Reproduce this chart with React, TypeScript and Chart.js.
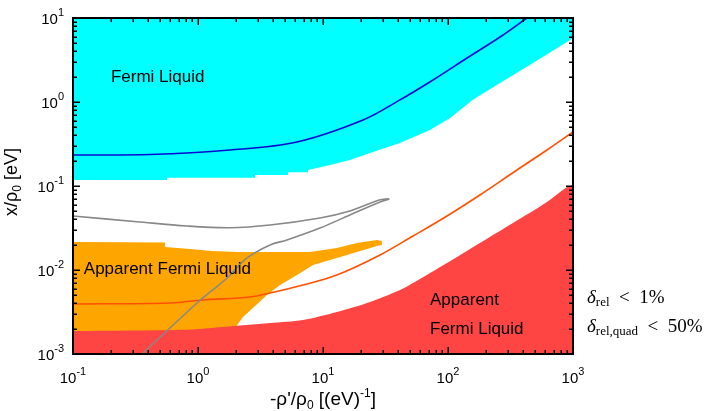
import React, { useEffect, useRef } from 'react';
import { Chart, registerables } from 'chart.js';

Chart.register(...registerables);

// ---------- data ----------
// Fermi liquid (cyan) lower boundary, filled up to the top
const cyanX = [0.1, 0.565, 0.565, 2.86, 2.86, 5.25, 5.25, 7.59, 7.59, 11.4, 16.4, 23.8, 41.3, 71.8, 104, 158, 261, 479, 895, 1000];
const cyanY = [0.118, 0.118, 0.1256, 0.1256, 0.135, 0.135, 0.1456, 0.1456, 0.155, 0.178, 0.204, 0.247, 0.325, 0.464, 0.645, 1.06, 1.68, 2.91, 5.18, 5.78];

// Apparent Fermi liquid (red) upper boundary, filled down to the bottom
const redX = [0.1, 0.817, 1.58, 3.77, 6.92, 12.9, 23.8, 41.3, 52.5, 98.2, 180, 331, 619, 895, 1000];
const redY = [0.00188, 0.00195, 0.0021, 0.00234, 0.00254, 0.00316, 0.00416, 0.00578, 0.007, 0.0121, 0.021, 0.0363, 0.0645, 0.0973, 0.103];

// Apparent Fermi liquid (orange) region outline
const orangeX = [0.1, 0.545, 0.545, 0.863, 1.29, 2.09, 7.87, 12.9, 18.7, 27.0, 29.6, 29.6, 27.0, 12.9, 8.32, 6.19, 4.53, 3.56, 2.75, 2.29, 1.98, 1.98, 0.1];
const orangeY = [0.0216, 0.0212, 0.0188, 0.0178, 0.0168, 0.0164, 0.0164, 0.0183, 0.021, 0.0228, 0.0221, 0.0199, 0.0193, 0.0139, 0.0115, 0.00871, 0.00663, 0.00504, 0.00353, 0.00276, 0.00204, 0.001, 0.001];

// blue curve
const blueX = [0.1, 0.413, 1.8, 6.19, 20.9, 41.3, 75.9, 142, 261, 428];
const blueY = [0.234, 0.237, 0.268, 0.334, 0.61, 1.06, 1.83, 3.34, 5.94, 10];

// orange-red curve
const olX = [0.1, 0.597, 1.1, 2.61, 3.77, 6.92, 12.9, 28.6, 52.5, 98.2, 180, 356, 619, 1000];
const olY = [0.00394, 0.00405, 0.0044, 0.00477, 0.00532, 0.00663, 0.00871, 0.0151, 0.0254, 0.044, 0.0782, 0.155, 0.268, 0.44];

// grey hairpin curve
const grayX = [0.1, 0.325, 0.817, 1.8, 3.77, 9.46, 16.4, 28.1, 33.7, 28.6, 16.4, 9.46, 5.15, 3.77, 2.47, 1.71, 1.25, 0.982, 0.597, 0.356];
const grayY = [0.044, 0.0376, 0.0334, 0.0319, 0.0343, 0.0416, 0.0504, 0.0681, 0.07, 0.0645, 0.0452, 0.0316, 0.0228, 0.0199, 0.0139, 0.00803, 0.00547, 0.00405, 0.00204, 0.001];

// axes
const xMajor = [0.1, 1, 10, 100, 1000];
const xExp = ['-1', '0', '1', '2', '3'];
const yMajor = [0.001, 0.01, 0.1, 1, 10];
const yExp = ['-3', '-2', '-1', '0', '1'];
const minorFactors = [2, 3, 4, 5, 6, 7, 8, 9];

// region labels [text, x, y] in data coordinates (left edge, vertical centre)
const regionLabels: [string, number, number][] = [
  ['Fermi Liquid', 0.201, 1.99],
  ['Apparent Fermi Liquid', 0.122, 0.0103],
  ['Apparent', 71.8, 0.0044],
  ['Fermi Liquid', 71.8, 0.00195],
];

const SANS = '"Liberation Sans", Arial, Helvetica, sans-serif';
const SERIF = '"Liberation Serif", "DejaVu Serif", serif';

type Run = { t: string; f: string; dy?: number };

function drawRuns(ctx: CanvasRenderingContext2D, runs: Run[], x: number, y: number, align: 'left' | 'center' | 'right') {
  let total = 0;
  const widths = runs.map((r) => {
    ctx.font = r.f;
    const w = ctx.measureText(r.t).width;
    total += w;
    return w;
  });
  let cx = align === 'left' ? x : align === 'center' ? x - total / 2 : x - total;
  ctx.textAlign = 'left';
  ctx.textBaseline = 'alphabetic';
  runs.forEach((r, i) => {
    ctx.font = r.f;
    ctx.fillText(r.t, cx, y + (r.dy || 0));
    cx += widths[i];
  });
}

const pts = (xs: number[], ys: number[]) => xs.map((x, i) => ({ x, y: ys[i] }));

const framePlugin = {
  id: 'frame',
  afterDatasetsDraw(chart: any) {
    const { ctx, scales } = chart;
    const xs = scales.x;
    const ys = scales.y;
    ctx.save();
    ctx.fillStyle = '#000';
    ctx.font = `17px ${SANS}`;
    ctx.textAlign = 'left';
    ctx.textBaseline = 'middle';
    for (const [t, x, y] of regionLabels) {
      ctx.fillText(t, xs.getPixelForValue(x), ys.getPixelForValue(y));
    }
    ctx.restore();
  },
  afterDraw(chart: any) {
    const { ctx, chartArea: a, scales } = chart;
    const xs = scales.x;
    const ys = scales.y;
    ctx.save();
    ctx.strokeStyle = '#000';
    ctx.lineWidth = 1.5;
    const seg = (x1: number, y1: number, x2: number, y2: number) => {
      ctx.beginPath();
      ctx.moveTo(x1, y1);
      ctx.lineTo(x2, y2);
      ctx.stroke();
    };
    const MAJ = 7;
    const MIN = 4;
    xMajor.forEach((v, i) => {
      const p = Math.round(xs.getPixelForValue(v)) + 0.25;
      seg(p, a.bottom, p, a.bottom - MAJ);
      seg(p, a.top, p, a.top + MAJ);
      if (i < xMajor.length - 1) {
        for (const k of minorFactors) {
          const q = Math.round(xs.getPixelForValue(v * k)) + 0.25;
          seg(q, a.bottom, q, a.bottom - MIN);
          seg(q, a.top, q, a.top + MIN);
        }
      }
    });
    yMajor.forEach((v, i) => {
      const p = Math.round(ys.getPixelForValue(v)) + 0.25;
      seg(a.left, p, a.left + MAJ, p);
      seg(a.right, p, a.right - MAJ, p);
      if (i < yMajor.length - 1) {
        for (const k of minorFactors) {
          const q = Math.round(ys.getPixelForValue(v * k)) + 0.25;
          seg(a.left, q, a.left + MIN, q);
          seg(a.right, q, a.right - MIN, q);
        }
      }
    });
    ctx.lineWidth = 2;
    ctx.strokeRect(a.left, a.top, a.right - a.left, a.bottom - a.top);

    // tick labels
    ctx.fillStyle = '#000';
    const big = `15px ${SANS}`;
    const sup = `11px ${SANS}`;
    xMajor.forEach((v, i) => {
      drawRuns(ctx, [{ t: '10', f: big }, { t: xExp[i], f: sup, dy: -8 }], xs.getPixelForValue(v), a.bottom + 29, 'center');
    });
    yMajor.forEach((v, i) => {
      drawRuns(ctx, [{ t: '10', f: big }, { t: yExp[i], f: sup, dy: -8 }], a.left - 9, ys.getPixelForValue(v) + 5.5, 'right');
    });

    // axis titles
    const tf = `19px ${SANS}`;
    const ts = `12px ${SANS}`;
    drawRuns(ctx, [
      { t: "-ρ'/ρ", f: tf },
      { t: '0', f: ts, dy: 4 },
      { t: ' [(eV)', f: tf },
      { t: '-1', f: ts, dy: -8 },
      { t: ']', f: tf },
    ], (a.left + a.right) / 2, 405, 'center');

    ctx.save();
    ctx.translate(17, 182);
    ctx.rotate(-Math.PI / 2);
    drawRuns(ctx, [
      { t: 'x/ρ', f: `18px ${SANS}` },
      { t: '0', f: ts, dy: 4 },
      { t: ' [eV]', f: `18px ${SANS}` },
    ], 0, 0, 'center');
    ctx.restore();

    // conditions, right of the plot
    const mi = `italic 19px ${SERIF}`;
    const mr = `19px ${SERIF}`;
    const ms = `13px ${SERIF}`;
    drawRuns(ctx, [
      { t: 'δ', f: mi },
      { t: 'rel', f: ms, dy: 3 },
      { t: '  <  1%', f: mr },
    ], a.right + 14, 303, 'left');
    drawRuns(ctx, [
      { t: 'δ', f: mi },
      { t: 'rel,quad', f: ms, dy: 3 },
      { t: '  <  50%', f: mr },
    ], a.right + 14, 332, 'left');
    ctx.restore();
  },
};

export default function App() {
  const ref = useRef<HTMLCanvasElement>(null);
  useEffect(() => {
    const canvas = ref.current;
    if (!canvas) return;
    const base = { pointRadius: 0, pointHoverRadius: 0, tension: 0 };
    const chart = new Chart(canvas, {
      type: 'line',
      data: {
        datasets: [
          { ...base, data: pts(grayX, grayY), borderColor: 'rgb(136,136,136)', borderWidth: 1.6, fill: false, tension: 0.35, order: 0 } as any,
          { ...base, data: pts(olX, olY), borderColor: 'rgb(255,80,0)', borderWidth: 1.6, fill: false, tension: 0.35, order: 1 } as any,
          { ...base, data: pts(blueX, blueY), borderColor: 'rgb(10,10,210)', borderWidth: 1.6, fill: false, tension: 0.35, order: 2 } as any,
          { ...base, data: pts(redX, redY), borderColor: 'rgba(0,0,0,0)', borderWidth: 0, backgroundColor: 'rgb(255,68,68)', fill: 'start', tension: 0.3, order: 3 } as any,
          { ...base, data: pts(orangeX, orangeY), borderColor: 'rgba(0,0,0,0)', borderWidth: 0, backgroundColor: 'rgb(255,165,0)', fill: 'shape', order: 4 } as any,
          { ...base, data: pts(cyanX, cyanY), borderColor: 'rgba(0,0,0,0)', borderWidth: 0, backgroundColor: 'rgb(0,255,255)', fill: 'end', order: 5 } as any,
        ],
      },
      options: {
        animation: false,
        responsive: false,
        devicePixelRatio: 1,
        events: [],
        layout: { padding: { left: 73, top: 18, right: 152, bottom: 57 } },
        plugins: { legend: { display: false }, tooltip: { enabled: false } },
        scales: {
          x: { type: 'logarithmic', min: 0.1, max: 1000, display: false },
          y: { type: 'logarithmic', min: 0.001, max: 10, display: false },
        },
      },
      plugins: [framePlugin],
    });
    return () => chart.destroy();
  }, []);
  return (
    <div style={{ position: 'absolute', left: 0, top: 0, width: 725, height: 411, background: '#fff' }}>
      <canvas ref={ref} width={725} height={411} style={{ display: 'block', width: 725, height: 411 }} />
    </div>
  );
}
